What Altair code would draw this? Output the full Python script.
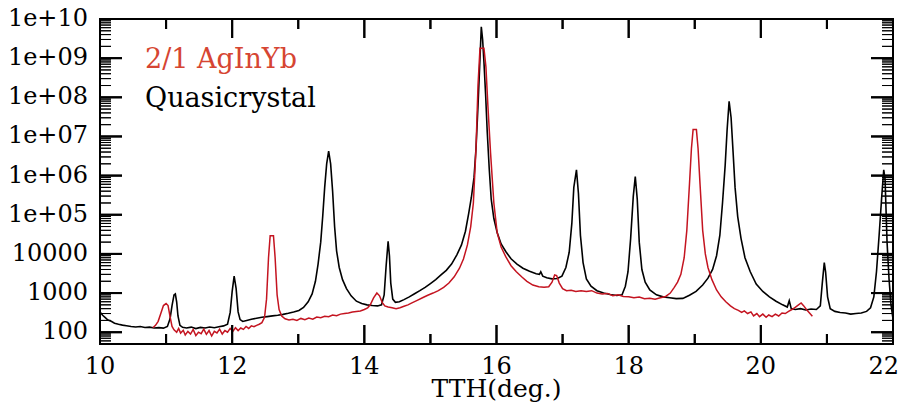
import math
import altair as alt
import pandas as pd

# ---------------- data ----------------
qc_x = [10.00, 10.04, 10.08, 10.12, 10.17, 10.22, 10.28, 10.34, 10.40, 10.47, 10.54, 10.61, 10.68, 10.75, 10.82, 10.89, 10.96, 11.02,
        11.06, 11.09, 11.12, 11.14, 11.16, 11.18, 11.21, 11.25,
        11.31, 11.38, 11.45, 11.52, 11.59, 11.66, 11.73, 11.80, 11.87, 11.93,
        11.97, 12.00, 12.03, 12.06, 12.09, 12.12, 12.16,
        12.22, 12.29, 12.37, 12.45, 12.53, 12.61, 12.69, 12.77, 12.85, 12.93, 13.01, 13.08, 13.15,
        13.21, 13.26, 13.30, 13.34, 13.37, 13.40, 13.43, 13.46, 13.49, 13.52, 13.55, 13.58, 13.62, 13.67, 13.73, 13.80, 13.88, 13.96, 14.04, 14.12, 14.20, 14.26,
        14.30, 14.33, 14.36, 14.38, 14.40, 14.43, 14.47, 14.53, 14.60, 14.68, 14.76, 14.84, 14.92, 15.00, 15.08, 15.16, 15.24, 15.32, 15.40, 15.47, 15.53,
        15.58, 15.62, 15.66, 15.69, 15.72, 15.745, 15.77, 15.79, 15.81, 15.835, 15.86, 15.89, 15.92, 15.96, 16.01, 16.07, 16.14, 16.22, 16.31, 16.40,
        16.50, 16.60, 16.65, 16.67, 16.70, 16.76, 16.84, 16.92, 16.99,
        17.05, 17.10, 17.14, 17.17, 17.21, 17.24, 17.27, 17.31, 17.36, 17.43, 17.52, 17.62, 17.72, 17.82, 17.90,
        17.95, 17.99, 18.03, 18.07, 18.10, 18.13, 18.16, 18.20, 18.25, 18.32, 18.42, 18.52, 18.62, 18.72, 18.82, 18.92,
        19.02, 19.12, 19.20, 19.27, 19.33, 19.38, 19.42, 19.46, 19.49, 19.52, 19.55, 19.58, 19.61, 19.65, 19.70, 19.76, 19.84, 19.93,
        20.03, 20.13, 20.23, 20.33, 20.40, 20.43, 20.46, 20.52, 20.60, 20.68, 20.76, 20.84,
        20.90, 20.93, 20.96, 20.98, 21.01, 21.05, 21.12, 21.20, 21.28, 21.36, 21.44, 21.52, 21.60,
        21.66, 21.71, 21.75, 21.79, 21.83, 21.86, 21.88, 21.91, 21.94, 21.97, 22.00]
qc_y = [330, 270, 235, 205, 190, 170, 160, 152, 146, 140, 136, 140, 132, 135, 128, 131, 127, 140,
        220, 480, 900, 950, 600, 260, 150, 133,
        128, 135, 124, 133, 128, 136, 130, 138, 145, 160,
        320, 1100, 2700, 1300, 330, 210, 188,
        200, 215, 228, 240, 250, 262, 270, 285, 305, 330, 360, 430, 600,
        950, 2000, 5500, 20000, 90000, 5e5, 2e6, 4.2e6, 2e6, 4e5, 50000, 12000, 4500, 2200, 1300, 850, 620, 540, 500, 480, 470, 500,
        900, 5000, 21000, 9000, 1800, 700, 580, 600, 680, 800, 960, 1150, 1400, 1750, 2200, 2900, 3800, 5500, 9500, 17000, 38000,
        1.1e5, 2.8e5, 9e5, 5e6, 6e7, 6e8, 6.3e9, 3e9, 8e8, 1.2e8, 1.3e7, 1.5e6, 2.5e5, 8e4, 3.5e4, 1.8e4, 1.15e4, 7500, 5500, 4300,
        3600, 3100, 3000, 3500, 2700, 2450, 2300, 2350, 2700,
        4500, 11000, 60000, 5e5, 1.4e6, 3.5e5, 30000, 6000, 2300, 1500, 1150, 1000, 920, 870, 900,
        1500, 3500, 25000, 3e5, 9.5e5, 2.5e5, 20000, 4000, 1900, 1200, 900, 800, 760, 720, 730, 880,
        1100, 1600, 2400, 4000, 9000, 30000, 2e5, 1.8e6, 1.5e7, 7.9e7, 3e7, 4e6, 5e5, 9e4, 25000, 8000, 3500, 1700,
        1100, 800, 620, 500, 440, 640, 400, 380, 400, 370, 390, 380,
        470, 1800, 6000, 3500, 800, 400, 340, 320, 310, 290, 300, 310, 340,
        420, 800, 3500, 30000, 3e5, 1.4e6, 8e5, 2e4, 2300, 500, 220]

ag_x = [10.80, 10.84, 10.88, 10.92, 10.96, 11.00, 11.03, 11.06, 11.09, 11.12,
        11.16, 11.19, 11.22, 11.26, 11.29, 11.33, 11.37, 11.41, 11.45, 11.49, 11.53, 11.57, 11.61, 11.65, 11.69, 11.73, 11.77, 11.81,
        11.85, 11.89, 11.93, 11.97, 12.01, 12.05, 12.09, 12.13, 12.17, 12.21, 12.25, 12.29, 12.33, 12.37, 12.41, 12.45,
        12.49, 12.52, 12.55, 12.575, 12.625, 12.65, 12.68, 12.71, 12.75,
        12.80, 12.86, 12.92, 12.98, 13.04, 13.10, 13.16, 13.22, 13.28, 13.34, 13.40, 13.46, 13.52, 13.58, 13.64, 13.70, 13.76, 13.82, 13.88, 13.94, 14.00,
        14.05, 14.09, 14.14, 14.19, 14.23, 14.27, 14.31, 14.36, 14.42, 14.48, 14.54, 14.60, 14.66, 14.72, 14.80, 14.88, 14.96, 15.04, 15.12, 15.20,
        15.28, 15.36, 15.44, 15.50, 15.56, 15.61, 15.65, 15.69, 15.72, 15.75, 15.81, 15.84, 15.87, 15.91, 15.96, 16.01, 16.07, 16.14, 16.22,
        16.30, 16.38, 16.46, 16.55, 16.64, 16.72, 16.79, 16.84, 16.88, 16.91, 16.95, 17.00, 17.06, 17.13, 17.20, 17.28, 17.36, 17.44,
        17.52, 17.60, 17.68, 17.76, 17.84, 17.92, 18.00, 18.08, 18.16, 18.24, 18.32, 18.40, 18.48, 18.56, 18.63, 18.69, 18.74, 18.79,
        18.84, 18.88, 18.92, 18.95, 18.975, 19.025, 19.05, 19.08, 19.12, 19.16, 19.20, 19.26, 19.33, 19.40, 19.47, 19.54, 19.60,
        19.66, 19.71, 19.75, 19.80, 19.85, 19.89, 19.94, 19.98, 20.03, 20.08, 20.12, 20.17, 20.22, 20.27, 20.32, 20.37, 20.42,
        20.47, 20.52, 20.57, 20.61, 20.65, 20.69, 20.73, 20.78]
ag_y = [130, 150, 190, 300, 480, 540, 480, 250, 140, 115,
        100, 125, 95, 112, 85, 105, 90, 118, 82, 100, 92, 120, 88, 110, 80, 105, 96, 120,
        90, 110, 100, 125, 105, 130, 110, 128, 118, 140, 125, 145, 138, 150, 160, 175,
        240, 700, 8000, 29000, 29000, 8000, 900, 380, 260,
        220, 205, 215, 200, 225, 210, 230, 215, 245, 235, 255, 250, 275, 265, 290, 300, 310, 330, 340, 350, 380,
        420, 500, 750, 1000, 850, 580, 470, 440, 420, 400, 420, 460, 500, 560, 650, 760, 880, 1000, 1150, 1400,
        1800, 2600, 4300, 7400, 17000, 50000, 2e5, 5e6, 2e8, 1.8e9, 1.8e9, 6e8, 6e7, 3.8e6, 2e5, 35000, 15000, 8500, 5000,
        3500, 2600, 2000, 1600, 1450, 1400, 1450, 1900, 2900, 2800, 1800, 1300, 1150, 1180, 1100, 1150, 1100, 1150,
        1000, 950, 980, 860, 900, 820, 800, 760, 790, 720, 740, 700, 760, 820, 1000, 1400, 1900, 3000,
        8000, 40000, 6e5, 5e6, 1.5e7, 1.5e7, 5e6, 6e5, 40000, 10000, 4500, 2200, 1200, 800, 600, 470, 400,
        360, 320, 350, 300, 330, 260, 300, 250, 290, 240, 275, 250, 290, 260, 310, 300, 340,
        380, 430, 500, 560, 470, 380, 320, 255]

x_major = [10, 12, 14, 16, 18, 20, 22]
x_labels = ["10", "12", "14", "16", "18", "20", "22"]
x_minor = [11, 13, 15, 17, 19, 21]
y_major = [1e2, 1e3, 1e4, 1e5, 1e6, 1e7, 1e8, 1e9, 1e10]
y_labels = ["100", "1000", "10000", "1e+05", "1e+06", "1e+07", "1e+08", "1e+09", "1e+10"]
y_minor = [k * 10 ** e for e in range(1, 10) for k in range(2, 10) if 50 <= k * 10 ** e < 1e10]

x_title = "TTH(deg.)"
legend_labels = ["2/1 AgInYb", "Quasicrystal"]

# ---------------- layout / style ----------------
W, H = 793, 325
XMIN, XMAX = 10, 22
YMIN, YMAX = 50, 1e10
FONT = "DejaVu Serif"
RED_LINE = "#c41420"
RED_TEXT = "#d64532"

xscale = alt.Scale(domain=[XMIN, XMAX], nice=False, zero=False)
yscale = alt.Scale(type="log", domain=[YMIN, YMAX], nice=False)

PX_PER_X = W / (XMAX - XMIN)
PX_PER_DEC = H / (math.log10(YMAX) - math.log10(YMIN))

# axes on the first layer only (labels identical to the text labels below)
x_axis = alt.Axis(values=x_major[:-1], title=None, ticks=False, tickSize=0, domain=False, grid=False,
                  labelFont=FONT, labelFontSize=24, labelColor="black", labelPadding=11, labelFlush=False,
                  labelOverlap=False, format="d")
y_axis = alt.Axis(values=y_major, title=None, ticks=False, tickSize=0, domain=False, grid=False,
                  labelFont=FONT, labelFontSize=24, labelColor="black", labelPadding=12,
                  labelOverlap=False, labelBound=False,
                  labelExpr="datum.value >= 100000 ? '1e+' + (datum.value >= 1e10 ? '' : '0') + round(log(datum.value)/LN10) : format(datum.value, 'd')")

qc_df = pd.DataFrame({"x": qc_x, "y": qc_y})
ag_df = pd.DataFrame({"x": ag_x, "y": ag_y})

qc_line = alt.Chart(qc_df).mark_line(color="black", strokeWidth=1.6, clip=True).encode(
    x=alt.X("x:Q", scale=xscale, axis=x_axis),
    y=alt.Y("y:Q", scale=yscale, axis=y_axis),
)
ag_line = alt.Chart(ag_df).mark_line(color=RED_LINE, strokeWidth=1.5, clip=True).encode(
    x=alt.X("x:Q", scale=xscale, axis=None),
    y=alt.Y("y:Q", scale=yscale, axis=None),
)


# inward ticks (axis furniture) as rules
def yticks(vals, x0, x1, sw):
    return alt.Chart(pd.DataFrame({"v": vals})).mark_rule(color="black", strokeWidth=sw).encode(
        y=alt.Y("v:Q", scale=yscale, axis=None), x=alt.value(x0), x2=alt.value(x1))


def xticks(vals, y0, y1, sw):
    return alt.Chart(pd.DataFrame({"v": vals})).mark_rule(color="black", strokeWidth=sw).encode(
        x=alt.X("v:Q", scale=xscale, axis=None), y=alt.value(y0), y2=alt.value(y1))


tick_layers = [
    yticks(y_major, 0, 22, 2), yticks(y_minor, 0, 11, 1),
    yticks(y_major, W - 22, W, 2), yticks(y_minor, W - 11, W, 1),
    xticks(x_major, H, H - 19, 2), xticks(x_minor, H, H - 10, 2),
    xticks(x_major, 0, 19, 2), xticks(x_minor, 0, 10, 2),
]


# the same ticks again as short two-point segments through the scales
def tick_rows(vals, side, length_px):
    rows = []
    for i, v in enumerate(vals):
        if side == "left":
            pts = [(XMIN, v), (XMIN + length_px / PX_PER_X, v)]
        elif side == "right":
            pts = [(XMAX - length_px / PX_PER_X, v), (XMAX, v)]
        elif side == "bottom":
            pts = [(v, YMIN), (v, YMIN * 10 ** (length_px / PX_PER_DEC))]
        else:
            pts = [(v, YMAX), (v, YMAX / 10 ** (length_px / PX_PER_DEC))]
        for j, (a, b) in enumerate(pts):
            rows.append({"tx": float(a), "ty": float(b), "tid": f"{side}-{length_px}-{i}", "o": j})
    return rows


major_rows = (tick_rows(y_major, "left", 22) + tick_rows(y_major, "right", 22)
              + tick_rows(x_major, "bottom", 19) + tick_rows(x_major, "top", 19)
              + tick_rows(x_minor, "bottom", 10) + tick_rows(x_minor, "top", 10))
minor_rows = tick_rows(y_minor, "left", 11) + tick_rows(y_minor, "right", 11)

seg_major = alt.Chart(pd.DataFrame(major_rows)).mark_line(color="black", strokeWidth=2).encode(
    x=alt.X("tx:Q", scale=xscale, axis=None), y=alt.Y("ty:Q", scale=yscale, axis=None),
    detail="tid:N", order="o:Q")
seg_minor = alt.Chart(pd.DataFrame(minor_rows)).mark_line(color="black", strokeWidth=1).encode(
    x=alt.X("tx:Q", scale=xscale, axis=None), y=alt.Y("ty:Q", scale=yscale, axis=None),
    detail="tid:N", order="o:Q")

# tick labels as text placed through the scales
ylab = alt.Chart(pd.DataFrame({"v": y_major, "lab": y_labels})).mark_text(
    align="right", baseline="middle", font=FONT, fontSize=24, color="black"
).encode(y=alt.Y("v:Q", scale=yscale, axis=None), x=alt.value(-12), text="lab:N")

xlab = alt.Chart(pd.DataFrame({"v": x_major[:-1], "lab": x_labels[:-1]})).mark_text(
    align="center", baseline="top", font=FONT, fontSize=24, color="black"
).encode(x=alt.X("v:Q", scale=xscale, axis=None), y=alt.value(H + 11), text="lab:N")

xlab_last = alt.Chart(pd.DataFrame({"v": x_major[-1:], "lab": x_labels[-1:]})).mark_text(
    align="right", baseline="top", font=FONT, fontSize=24, color="black", dx=6
).encode(x=alt.X("v:Q", scale=xscale, axis=None), y=alt.value(H + 11), text="lab:N")

xtitle = alt.Chart(pd.DataFrame({"t": [x_title]})).mark_text(
    align="center", baseline="alphabetic", font=FONT, fontSize=25, color="black"
).encode(text="t:N", x=alt.value(W / 2), y=alt.value(H + 53))

leg1 = alt.Chart(pd.DataFrame({"t": [legend_labels[0]]})).mark_text(
    align="left", baseline="alphabetic", font=FONT, fontSize=27, color=RED_TEXT
).encode(text="t:N", x=alt.value(45), y=alt.value(49))
leg2 = alt.Chart(pd.DataFrame({"t": [legend_labels[1]]})).mark_text(
    align="left", baseline="alphabetic", font=FONT, fontSize=27, color="black"
).encode(text="t:N", x=alt.value(45), y=alt.value(88))

chart = alt.layer(qc_line, ag_line, *tick_layers, seg_major, seg_minor,
                  ylab, xlab, xlab_last, xtitle, leg1, leg2).properties(
    width=W, height=H,
    autosize=alt.AutoSizeParams(type="none"),
    padding={"left": 92, "top": 11, "right": 6, "bottom": 58},
    background="white",
).configure_view(stroke="black", strokeWidth=2)

chart.save("out.html", embed_options={"renderer": "svg", "actions": False})
